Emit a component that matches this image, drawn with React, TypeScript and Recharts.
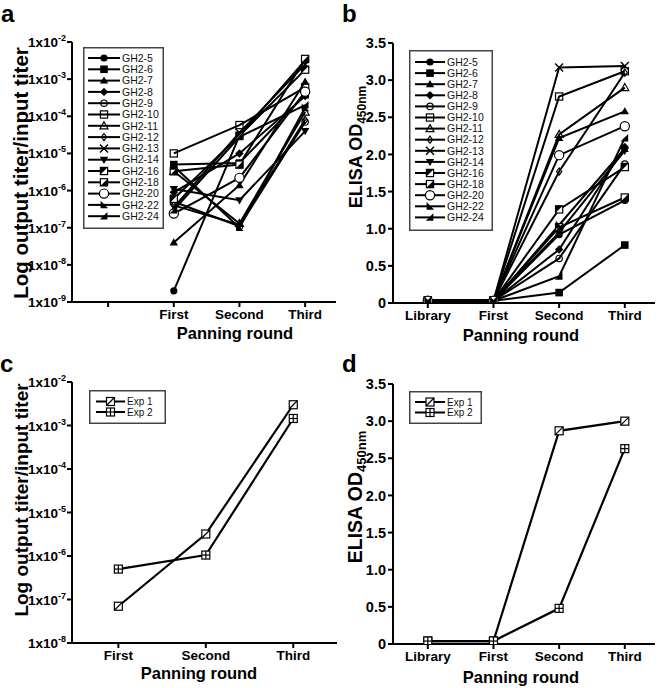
import React from "react";
import { LineChart, Line, XAxis, YAxis, Legend, Label } from "recharts";

const FONT = "'Liberation Sans', Arial, sans-serif";

// x categories
const titerRounds = ["", "First", "Second", "Third"];
const elisaRounds = ["Library", "First", "Second", "Third"];
const expRounds = ["First", "Second", "Third"];

// tick values
const logTicksA = [1e-9, 1e-8, 1e-7, 1e-6, 1e-5, 1e-4, 1e-3, 1e-2];
const logTicksC = [1e-8, 1e-7, 1e-6, 1e-5, 1e-4, 1e-3, 1e-2];
const odTicks = [0, 0.5, 1, 1.5, 2, 2.5, 3, 3.5];

// panel a: output/input titer (First, Second, Third)
const titerGH2_5 = [2e-9, 3e-5, 3.2e-3];
const titerGH2_6 = [5e-6, 5.5e-6, 3.8e-4];
const titerGH2_7 = [4e-8, 1.4e-6, 8.5e-4];
const titerGH2_8 = [9e-7, 1e-5, 3.5e-4];
const titerGH2_9 = [5e-7, 1.1e-7, 7e-5];
const titerGH2_10 = [1e-5, 5.8e-5, 6e-4];
const titerGH2_11 = [3.3e-6, 1.3e-7, 1.3e-4];
const titerGH2_12 = [4e-7, 1.2e-7, 8e-5];
const titerGH2_13 = [3.5e-7, 3.6e-5, 2.5e-3];
const titerGH2_14 = [1.1e-6, 5.5e-7, 4e-5];
const titerGH2_16 = [6e-7, 3e-5, 1.8e-3];
const titerGH2_18 = [3.3e-6, 5e-6, 3.5e-3];
const titerGH2_20 = [2.4e-7, 2.2e-6, 4.6e-4];
const titerGH2_22 = [4.5e-6, 1e-7, 1.7e-4];
const titerGH2_24 = [3e-7, 2.8e-5, 2e-4];

// panel b: ELISA OD450 (Library, First, Second, Third)
const odGH2_5 = [0.03, 0.03, 0.92, 1.38];
const odGH2_6 = [0.03, 0.03, 0.14, 0.78];
const odGH2_7 = [0.03, 0.03, 2.22, 2.58];
const odGH2_8 = [0.03, 0.03, 0.72, 2.1];
const odGH2_9 = [0.03, 0.03, 0.6, 1.87];
const odGH2_10 = [0.03, 0.03, 2.78, 3.12];
const odGH2_11 = [0.03, 0.03, 2.27, 2.9];
const odGH2_12 = [0.03, 0.03, 1.77, 3.1];
const odGH2_13 = [0.03, 0.03, 3.17, 3.19];
const odGH2_14 = [0.03, 0.03, 0.95, 2.05];
const odGH2_16 = [0.03, 0.03, 1.26, 1.83];
const odGH2_18 = [0.03, 0.03, 1.02, 1.42];
const odGH2_20 = [0.03, 0.03, 1.99, 2.38];
const odGH2_22 = [0.03, 0.03, 1.05, 2.08];
const odGH2_24 = [0.03, 0.03, 0.36, 2.22];

// panels c, d
const titerExp1 = [7e-8, 3.2e-6, 3e-3];
const titerExp2 = [5e-7, 1.05e-6, 1.45e-3];
const odExp1 = [0.04, 0.04, 2.87, 3.0];
const odExp2 = [0.04, 0.04, 0.48, 2.63];

const clones = ["GH2-5", "GH2-6", "GH2-7", "GH2-8", "GH2-9", "GH2-10", "GH2-11", "GH2-12", "GH2-13", "GH2-14", "GH2-16", "GH2-18", "GH2-20", "GH2-22", "GH2-24"];
const cloneMarkers = ["dot", "square", "tri", "diamond", "ocircle", "osquare", "otri", "odiamond", "cross", "tridown", "halfsq1", "halfsq2", "bigcircle", "wedge1", "wedge2"];
const cloneTiters = [titerGH2_5, titerGH2_6, titerGH2_7, titerGH2_8, titerGH2_9, titerGH2_10, titerGH2_11, titerGH2_12, titerGH2_13, titerGH2_14, titerGH2_16, titerGH2_18, titerGH2_20, titerGH2_22, titerGH2_24];
const cloneOD = [odGH2_5, odGH2_6, odGH2_7, odGH2_8, odGH2_9, odGH2_10, odGH2_11, odGH2_12, odGH2_13, odGH2_14, odGH2_16, odGH2_18, odGH2_20, odGH2_22, odGH2_24];

const exps = ["Exp 1", "Exp 2"];
const expMarkers = ["slashsq", "plussq"];

// tables for recharts
const rowsA = [1, 2, 3].map((x) => {
  const row: any = { x };
  clones.forEach((c, k) => (row[c] = cloneTiters[k][x - 1]));
  return row;
});
const rowsB = elisaRounds.map((_, x) => {
  const row: any = { x };
  clones.forEach((c, k) => (row[c] = cloneOD[k][x]));
  return row;
});
const rowsC = expRounds.map((_, i) => ({ x: i + 1, "Exp 1": titerExp1[i], "Exp 2": titerExp2[i] }));
const rowsD = elisaRounds.map((_, x) => ({ x, "Exp 1": odExp1[x], "Exp 2": odExp2[x] }));

function Marker({ kind, x, y }: { kind: string; x: number; y: number }) {
  const sw = 1.2;
  switch (kind) {
    case "dot":
      return <circle cx={x} cy={y} r={3.6} fill="#000" />;
    case "square":
      return <rect x={x - 3.8} y={y - 3.8} width={7.6} height={7.6} fill="#000" />;
    case "tri":
      return <polygon points={`${x},${y - 4.2} ${x + 4.2},${y + 3} ${x - 4.2},${y + 3}`} fill="#000" />;
    case "diamond":
      return <polygon points={`${x},${y - 4.2} ${x + 4.2},${y} ${x},${y + 4.2} ${x - 4.2},${y}`} fill="#000" />;
    case "ocircle":
      return <circle cx={x} cy={y} r={3.2} fill="none" stroke="#000" strokeWidth={sw} />;
    case "osquare":
      return <rect x={x - 3.6} y={y - 3.6} width={7.2} height={7.2} fill="none" stroke="#000" strokeWidth={sw} />;
    case "otri":
      return <polygon points={`${x},${y - 4} ${x + 4},${y + 3} ${x - 4},${y + 3}`} fill="none" stroke="#000" strokeWidth={sw} />;
    case "odiamond":
      return <polygon points={`${x},${y - 3.6} ${x + 2.6},${y} ${x},${y + 3.6} ${x - 2.6},${y}`} fill="none" stroke="#000" strokeWidth={sw} />;
    case "cross":
      return (
        <g stroke="#000" strokeWidth={1.4}>
          <line x1={x - 4} y1={y - 4} x2={x + 4} y2={y + 4} />
          <line x1={x - 4} y1={y + 4} x2={x + 4} y2={y - 4} />
        </g>
      );
    case "tridown":
      return <polygon points={`${x - 4.2},${y - 3} ${x + 4.2},${y - 3} ${x},${y + 4.2}`} fill="#000" />;
    case "halfsq1":
      return (
        <g>
          <rect x={x - 3.6} y={y - 3.6} width={7.2} height={7.2} fill="#fff" stroke="#000" strokeWidth={sw} />
          <polygon points={`${x - 3.6},${y - 3.6} ${x - 3.6},${y + 3.6} ${x + 3.6},${y - 3.6}`} fill="#000" />
        </g>
      );
    case "halfsq2":
      return (
        <g>
          <rect x={x - 3.6} y={y - 3.6} width={7.2} height={7.2} fill="#fff" stroke="#000" strokeWidth={sw} />
          <polygon points={`${x + 3.6},${y - 3.6} ${x + 3.6},${y + 3.6} ${x - 3.6},${y + 3.6}`} fill="#000" />
        </g>
      );
    case "bigcircle":
      return <circle cx={x} cy={y} r={4.6} fill="#fff" stroke="#000" strokeWidth={sw} />;
    case "wedge1":
      return <polygon points={`${x - 3.4},${y - 4.2} ${x - 3.4},${y + 3.4} ${x + 4.2},${y + 3.4}`} fill="#000" />;
    case "wedge2":
      return <polygon points={`${x + 3.4},${y - 4.2} ${x + 3.4},${y + 3.4} ${x - 4.2},${y + 3.4}`} fill="#000" />;
    case "slashsq":
      return (
        <g stroke="#000" strokeWidth={sw}>
          <rect x={x - 4} y={y - 4} width={8} height={8} fill="#fff" />
          <line x1={x - 4} y1={y + 4} x2={x + 4} y2={y - 4} />
        </g>
      );
    case "plussq":
      return (
        <g stroke="#000" strokeWidth={sw}>
          <rect x={x - 4} y={y - 4} width={8} height={8} fill="#fff" />
          <line x1={x - 4} y1={y} x2={x + 4} y2={y} />
          <line x1={x} y1={y - 4} x2={x} y2={y + 4} />
        </g>
      );
    default:
      return null;
  }
}

function LegendBox({ names, kinds, w, h, rowY, rowGap, lineX1, lineX2, textX, fontSize }: any) {
  return (
    <svg width={w} height={h} style={{ display: "block" }}>
      <rect x={0.75} y={0.75} width={w - 1.5} height={h - 1.5} fill="#fff" stroke="#444" strokeWidth={1.5} />
      {names.map((n: string, i: number) => {
        const y = rowY + i * rowGap;
        return (
          <g key={n}>
            <line x1={lineX1} x2={lineX2} y1={y} y2={y} stroke="#000" strokeWidth={2} />
            <Marker kind={kinds[i]} x={(lineX1 + lineX2) / 2} y={y} />
            <text x={textX} y={y} dy="0.36em" fontSize={fontSize} fontFamily={FONT} fill="#111">
              {n}
            </text>
          </g>
        );
      })}
    </svg>
  );
}

function LogTick(props: any) {
  const { x, y, payload } = props;
  const exp = Math.round(Math.log10(payload.value));
  return (
    <text x={x} y={y} dy={5} textAnchor="end" fontFamily={FONT} fontWeight={700} fontSize={13.5} fill="#000">
      1x10
      <tspan dy={-6} fontSize={9}>
        {exp}
      </tspan>
    </text>
  );
}

const axisStroke = { stroke: "#000", strokeWidth: 2 };
const xTick = { fill: "#000", fontSize: 13.5, fontWeight: 700, fontFamily: FONT };
const yTick = { fill: "#000", fontSize: 14.5, fontWeight: 700, fontFamily: FONT };

function AxisTitle({ x, y, size, children, rotate }: any) {
  return (
    <text
      transform={`translate(${x},${y})${rotate ? " rotate(-90)" : ""}`}
      textAnchor="middle"
      fontFamily={FONT}
      fontWeight={700}
      fontSize={size}
      fill="#000"
    >
      {children}
    </text>
  );
}

function seriesDot(kind: string, name: string) {
  return (p: any) => <Marker key={`${name}-${p.index}`} kind={kind} x={p.cx} y={p.cy} />;
}

const panelLetters = ["a", "b", "c", "d"];
const letterPos = [
  [1, 22],
  [342, 22],
  [0, 372],
  [342, 372],
];

export default function App() {
  return (
    <div style={{ position: "absolute", left: 0, top: 0, width: 660, height: 688, background: "#fff", overflow: "hidden" }}>
      {/* a: titer per clone */}
      <div style={{ position: "absolute", left: 0, top: 0 }}>
        <LineChart width={345} height={345} data={rowsA} margin={{ top: 42, right: 9, left: 12, bottom: 5 }}>
          <XAxis
            type="number"
            dataKey="x"
            domain={[-0.55, 3.47]}
            allowDataOverflow
            ticks={[0, 1, 2, 3]}
            interval={0}
            tickFormatter={(v: number) => titerRounds[v]}
            height={38}
            tickSize={5}
            axisLine={axisStroke}
            tickLine={axisStroke}
            tick={xTick}
          >
            <Label content={() => <AxisTitle x={235} y={339} size={16.5}>Panning round</AxisTitle>} />
          </XAxis>
          <YAxis
            type="number"
            scale="log"
            domain={[1e-9, 1e-2]}
            allowDataOverflow
            ticks={logTicksA}
            interval={0}
            width={60}
            tickSize={5}
            tickMargin={1}
            axisLine={axisStroke}
            tickLine={axisStroke}
            tick={<LogTick />}
          >
            <Label content={() => <AxisTitle x={28} y={173} size={20.5} rotate>Log output titer/input titer</AxisTitle>} />
          </YAxis>
          <Legend
            layout="vertical"
            align="center"
            verticalAlign="middle"
            wrapperStyle={{ left: 83, top: 47, width: 81 }}
            content={() => (
              <LegendBox names={clones} kinds={cloneMarkers} w={81} h={182} rowY={11} rowGap={11.3} lineX1={5} lineX2={37} textX={39} fontSize={10.5} />
            )}
          />
          {clones.map((c, k) => (
            <Line
              key={c}
              dataKey={c}
              stroke="#000"
              strokeWidth={2}
              dot={seriesDot(cloneMarkers[k], c)}
              activeDot={false}
              isAnimationActive={false}
            />
          ))}
        </LineChart>
      </div>

      {/* b: ELISA per clone */}
      <div style={{ position: "absolute", left: 330, top: 0 }}>
        <LineChart width={330} height={345} data={rowsB} margin={{ top: 43, right: 5, left: 13, bottom: 4 }}>
          <XAxis
            type="number"
            dataKey="x"
            domain={[-0.53, 3.46]}
            allowDataOverflow
            ticks={[0, 1, 2, 3]}
            interval={0}
            tickFormatter={(v: number) => elisaRounds[v]}
            height={38}
            tickSize={5}
            axisLine={axisStroke}
            tickLine={axisStroke}
            tick={xTick}
          >
            <Label content={() => <AxisTitle x={191} y={341} size={16.5}>Panning round</AxisTitle>} />
          </XAxis>
          <YAxis
            type="number"
            domain={[0, 3.5]}
            allowDataOverflow
            ticks={odTicks}
            interval={0}
            tickFormatter={(v: number) => (v === 0 ? "0" : v.toFixed(1))}
            width={50}
            tickSize={5}
            tickMargin={2}
            axisLine={axisStroke}
            tickLine={axisStroke}
            tick={yTick}
          >
            <Label
              content={() => (
                <AxisTitle x={32} y={147} size={18} rotate>
                  ELISA OD<tspan fontSize={12} dy={4}>450nm</tspan>
                </AxisTitle>
              )}
            />
          </YAxis>
          <Legend
            layout="vertical"
            align="center"
            verticalAlign="middle"
            wrapperStyle={{ left: 79, top: 50, width: 84 }}
            content={() => (
              <LegendBox names={clones} kinds={cloneMarkers} w={84} h={181} rowY={12} rowGap={11.1} lineX1={6} lineX2={36} textX={38} fontSize={10.5} />
            )}
          />
          {clones.map((c, k) => (
            <Line
              key={c}
              dataKey={c}
              stroke="#000"
              strokeWidth={2}
              dot={seriesDot(cloneMarkers[k], c)}
              activeDot={false}
              isAnimationActive={false}
            />
          ))}
        </LineChart>
      </div>

      {/* c: titer per experiment */}
      <div style={{ position: "absolute", left: 0, top: 340 }}>
        <LineChart width={345} height={348} data={rowsC} margin={{ top: 42, right: 8, left: 12, bottom: 7 }}>
          <XAxis
            type="number"
            dataKey="x"
            domain={[0.47, 3.5]}
            allowDataOverflow
            ticks={[1, 2, 3]}
            interval={0}
            tickFormatter={(v: number) => expRounds[v - 1]}
            height={38}
            tickSize={5}
            axisLine={axisStroke}
            tickLine={axisStroke}
            tick={xTick}
          >
            <Label content={() => <AxisTitle x={199} y={339} size={16.5}>Panning round</AxisTitle>} />
          </XAxis>
          <YAxis
            type="number"
            scale="log"
            domain={[1e-8, 1e-2]}
            allowDataOverflow
            ticks={logTicksC}
            interval={0}
            width={60}
            tickSize={5}
            tickMargin={1}
            axisLine={axisStroke}
            tickLine={axisStroke}
            tick={<LogTick />}
          >
            <Label content={() => <AxisTitle x={28} y={160} size={19} rotate>Log output titer/input titer</AxisTitle>} />
          </YAxis>
          <Legend
            layout="vertical"
            align="center"
            verticalAlign="middle"
            wrapperStyle={{ left: 89, top: 50, width: 77 }}
            content={() => (
              <LegendBox names={exps} kinds={expMarkers} w={77} h={34} rowY={11.5} rowGap={10.5} lineX1={7} lineX2={36} textX={38} fontSize={10} />
            )}
          />
          {exps.map((e, k) => (
            <Line
              key={e}
              dataKey={e}
              stroke="#000"
              strokeWidth={2.2}
              dot={seriesDot(expMarkers[k], e)}
              activeDot={false}
              isAnimationActive={false}
            />
          ))}
        </LineChart>
      </div>

      {/* d: ELISA per experiment */}
      <div style={{ position: "absolute", left: 330, top: 340 }}>
        <LineChart width={330} height={348} data={rowsD} margin={{ top: 44, right: 5, left: 13, bottom: 6 }}>
          <XAxis
            type="number"
            dataKey="x"
            domain={[-0.53, 3.46]}
            allowDataOverflow
            ticks={[0, 1, 2, 3]}
            interval={0}
            tickFormatter={(v: number) => elisaRounds[v]}
            height={38}
            tickSize={5}
            axisLine={axisStroke}
            tickLine={axisStroke}
            tick={xTick}
          >
            <Label content={() => <AxisTitle x={191} y={343} size={16.5}>Panning round</AxisTitle>} />
          </XAxis>
          <YAxis
            type="number"
            domain={[0, 3.5]}
            allowDataOverflow
            ticks={odTicks}
            interval={0}
            tickFormatter={(v: number) => (v === 0 ? "0" : v.toFixed(1))}
            width={50}
            tickSize={5}
            tickMargin={2}
            axisLine={axisStroke}
            tickLine={axisStroke}
            tick={yTick}
          >
            <Label
              content={() => (
                <AxisTitle x={32} y={157} size={19.5} rotate>
                  ELISA OD<tspan fontSize={13} dy={4}>450nm</tspan>
                </AxisTitle>
              )}
            />
          </YAxis>
          <Legend
            layout="vertical"
            align="center"
            verticalAlign="middle"
            wrapperStyle={{ left: 79, top: 51, width: 73 }}
            content={() => (
              <LegendBox names={exps} kinds={expMarkers} w={73} h={33} rowY={11} rowGap={10.5} lineX1={6} lineX2={36} textX={38} fontSize={10} />
            )}
          />
          {exps.map((e, k) => (
            <Line
              key={e}
              dataKey={e}
              stroke="#000"
              strokeWidth={2.2}
              dot={seriesDot(expMarkers[k], e)}
              activeDot={false}
              isAnimationActive={false}
            />
          ))}
        </LineChart>
      </div>

      <svg width={660} height={688} style={{ position: "absolute", left: 0, top: 0, pointerEvents: "none" }}>
        {panelLetters.map((l, i) => (
          <text key={l} x={letterPos[i][0]} y={letterPos[i][1]} fontFamily={FONT} fontWeight={700} fontSize={24} fill="#000">
            {l}
          </text>
        ))}
      </svg>
    </div>
  );
}
